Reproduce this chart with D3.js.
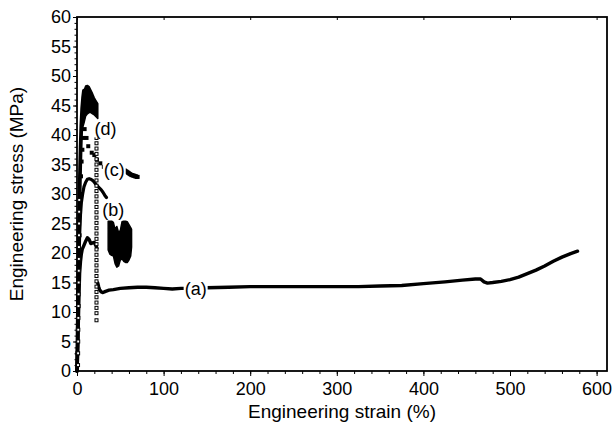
<!DOCTYPE html>
<html><head><meta charset="utf-8">
<script src="https://cdn.jsdelivr.net/npm/d3@7"></script>
<style>body{margin:0;background:#fff}svg{display:block}text{font-family:"Liberation Sans",Arial,Helvetica,sans-serif;fill:#000}</style>
</head><body>
<svg id="c" width="614" height="432"></svg>
<script>
// ---- data (strain %, stress MPa) ----
const xTicks = [0,100,200,300,400,500,600];
const yTicks = [0,5,10,15,20,25,30,35,40,45,50,55,60];
const curveA_rise = [[0,0],[0.5,2],[1,5],[1.5,8],[2,11],[2.5,14],[3,16.5],[4,18.5],[5,19.8],[6,20.6],[8,21.3],[10,22],[12,22.6],[14,22.3],[16,21.6],[18,21.7],[20,21.8],[22,21.2],[23,20.8]];
const curveA_flow = [[24,14.9],[25,14.3],[26,13.8],[28,13.4],[30,13.3],[33,13.5],[37,13.7],[42,13.8],[50,14],[60,14.1],[70,14.2],[80,14.2],[90,14.1],[100,14],[110,13.9],[120,14],[135,14],[150,14.1],[175,14.2],[200,14.3],[225,14.3],[250,14.3],[275,14.3],[300,14.3],[325,14.3],[350,14.4],[375,14.5],[400,14.8],[425,15.1],[445,15.4],[460,15.6],[466,15.6],[470,15.1],[474,14.9],[480,15],[490,15.2],[500,15.5],[510,15.9],[520,16.5],[530,17.1],[540,17.8],[550,18.6],[560,19.3],[570,19.9],[578,20.3]];
const curveB = [[0,0],[0.8,5],[1.5,12],[2.2,18],[3,23],[4,26.5],[5,28.5],[6.5,30],[8,31.2],[10,32],[12,32.5],[14,32.6],[16,32.5],[18,32.3],[20,32],[22,31.6],[24,31.3],[26,31],[28,30.7],[30,30.3],[32,29.8],[34,29.4]];
const bBlockStrain = [36,38,40,42,44,46,48,50,52,54,56,58,60,62,63];
const bBlockHigh   = [25.4,25.4,25.4,25.2,24,24.5,23.5,23.8,25.3,25.4,25.4,25.3,24.8,24.3,24];
const bBlockLow    = [20.5,19.8,19.6,19.5,18.2,17.6,17.8,18.8,19,18.6,18.4,18.4,18.8,19.5,21];
const curveC = [[0.5,3],[1,7],[1.5,11],[2,15],[2.5,19],[3,23],[3.5,27],[4,30],[4.6,33],[5.3,35.5],[6.2,37.5],[7.3,39.5],[8.8,41],[11,39.5],[13,38.1],[17,37],[20,36.6],[23,35.8],[27,35.2],[31,34.6],[55,34],[56,33.9],[57,33.8],[58,33.7],[59,33.6],[60,33.5],[61,33.4],[62,33.3],[63,33.2],[64,33.2],[65,33.1],[66,33.1],[67,33],[68,33],[69,32.9],[70,32.9]];
const curveD_rise = [[0,0],[0.7,6],[1.3,13],[2,20],[2.7,27],[3.4,33],[4.2,38],[5,41.5],[6,44.5],[7,46.3],[8,47.5]];
const dBandStrain = [6,8,10,12,14,16,18,20,22,24];
const dBandHigh   = [44.5,47.5,48.3,48.4,48.2,47.6,47,46.3,45.8,45.3];
const dBandLow    = [41,42,43.2,43.6,43.8,43.8,43.6,43.4,43.1,42.8];
const openRise = [[1.2,1],[1.3,3],[1.4,5],[1.5,7],[1.6,9],[1.7,11],[1.8,13],[1.9,15],[2,17],[2.1,19],[2.2,21],[2.3,23],[2.4,25],[2.5,27],[2.6,29]];
const openDropStrain = 22.5;
const openDropStress = [39.5,38.6,37.7,36.8,35.9,35.0,34.1,33.2,32.3,31.4,30.5,29.6,28.7,27.8,26.9,26.0,25.1,24.2,23.3,22.4,21.5,20.6,19.7,18.8,17.9,17.0,16.1,15.2,14.3,13.4,12.5,11.6,10.7,9.8,8.6];
const labels = [{t:"(a)",s:137,v:14},{t:"(b)",s:42,v:27.3},{t:"(c)",s:43,v:34.2},{t:"(d)",s:33,v:41}];

// ---- chart ----
const L=77,R=607,T=17,B=371;
const svg=d3.select("#c");
const x=d3.scaleLinear().domain([0,612]).range([L,R]);
const y=d3.scaleLinear().domain([0,60]).range([B,T]);

// minor ticks
const xMinor=d3.range(0,612,20), yMinor=d3.range(0,61,1);
svg.append("g").attr("transform",`translate(0,${B})`)
  .call(d3.axisBottom(x).tickValues(xMinor).tickSize(3).tickFormat(""))
  .call(g=>g.select(".domain").remove());
svg.append("g").attr("transform",`translate(${L},0)`)
  .call(d3.axisLeft(y).tickValues(yMinor).tickSize(2.5).tickFormat(""))
  .call(g=>g.select(".domain").remove());
svg.append("g").attr("transform",`translate(0,${T})`)
  .call(d3.axisBottom(x).tickValues(xTicks).tickSize(3).tickFormat(""))
  .call(g=>g.select(".domain").remove());
// major
const gx=svg.append("g").attr("transform",`translate(0,${B})`)
  .call(d3.axisBottom(x).tickValues(xTicks).tickSize(5).tickPadding(6).tickFormat(d3.format("d")));
gx.select(".domain").remove();
gx.selectAll("text").attr("font-size",18).attr("font-family","Liberation Sans, Arial, sans-serif");
const gy=svg.append("g").attr("transform",`translate(${L},0)`)
  .call(d3.axisLeft(y).tickValues(yTicks).tickSize(4).tickPadding(2).tickFormat(d3.format("d")));
gy.select(".domain").remove();
gy.selectAll("text").attr("font-size",18).attr("font-family","Liberation Sans, Arial, sans-serif");
svg.selectAll(".tick line").attr("stroke","#000").attr("stroke-width",1);

// frame
svg.append("rect").attr("x",L).attr("y",T).attr("width",R-L).attr("height",B-T)
  .attr("fill","none").attr("stroke","#000").attr("stroke-width",1.8);

const line=d3.line().x(d=>x(d[0])).y(d=>y(d[1])).curve(d3.curveLinear);
const thick=(data,w)=>svg.append("path").datum(data).attr("d",line).attr("fill","none")
  .attr("stroke","#000").attr("stroke-width",w).attr("stroke-linejoin","round").attr("stroke-linecap","round");

thick(curveA_rise,3.4);
thick(curveA_flow,3.4);
thick(curveB,3.2);
thick(curveD_rise,3.8);

const area=d3.area().x(d=>x(d.s)).y0(d=>y(d.lo)).y1(d=>y(d.hi));
const bBlock=bBlockStrain.map((s,i)=>({s,hi:bBlockHigh[i],lo:bBlockLow[i]}));
const dBand=dBandStrain.map((s,i)=>({s,hi:dBandHigh[i],lo:dBandLow[i]}));
[bBlock,dBand].forEach(dd=>svg.append("path").datum(dd).attr("d",area)
  .attr("fill","#000").attr("stroke","#000").attr("stroke-width",1.5).attr("stroke-linejoin","round"));

// filled squares (c)
svg.append("g").selectAll("rect").data(curveC).join("rect")
  .attr("x",d=>x(d[0])-2).attr("y",d=>y(d[1])-2).attr("width",4).attr("height",4).attr("fill","#000");

// open squares
const openDrop=openDropStress.map(v=>[openDropStrain,v]);
svg.append("g").selectAll("rect").data(openRise.concat(openDrop)).join("rect")
  .attr("x",d=>x(d[0])-1.5).attr("y",d=>y(d[1])-1.5).attr("width",3).attr("height",3)
  .attr("fill","#fff").attr("stroke","#000").attr("stroke-width",1);

// labels
labels.forEach(l=>{
  const g=svg.append("g");
  const t=g.append("text").attr("x",x(l.s)).attr("y",y(l.v)).attr("dy","0.35em")
    .attr("text-anchor","middle").attr("font-size",18).text(l.t);
  const bb=t.node().getBBox();
  g.insert("rect","text").attr("x",bb.x-1).attr("y",bb.y+2).attr("width",bb.width+2).attr("height",bb.height-4).attr("fill","#fff");
});

// axis titles
svg.append("text").attr("x",(L+R)/2).attr("y",418).attr("text-anchor","middle").attr("font-size",19)
  .text("Engineering strain (%)");
svg.append("text").attr("transform",`translate(23,${(T+B)/2}) rotate(-90)`).attr("text-anchor","middle").attr("font-size",19)
  .text("Engineering stress (MPa)");
</script>
</body></html>
